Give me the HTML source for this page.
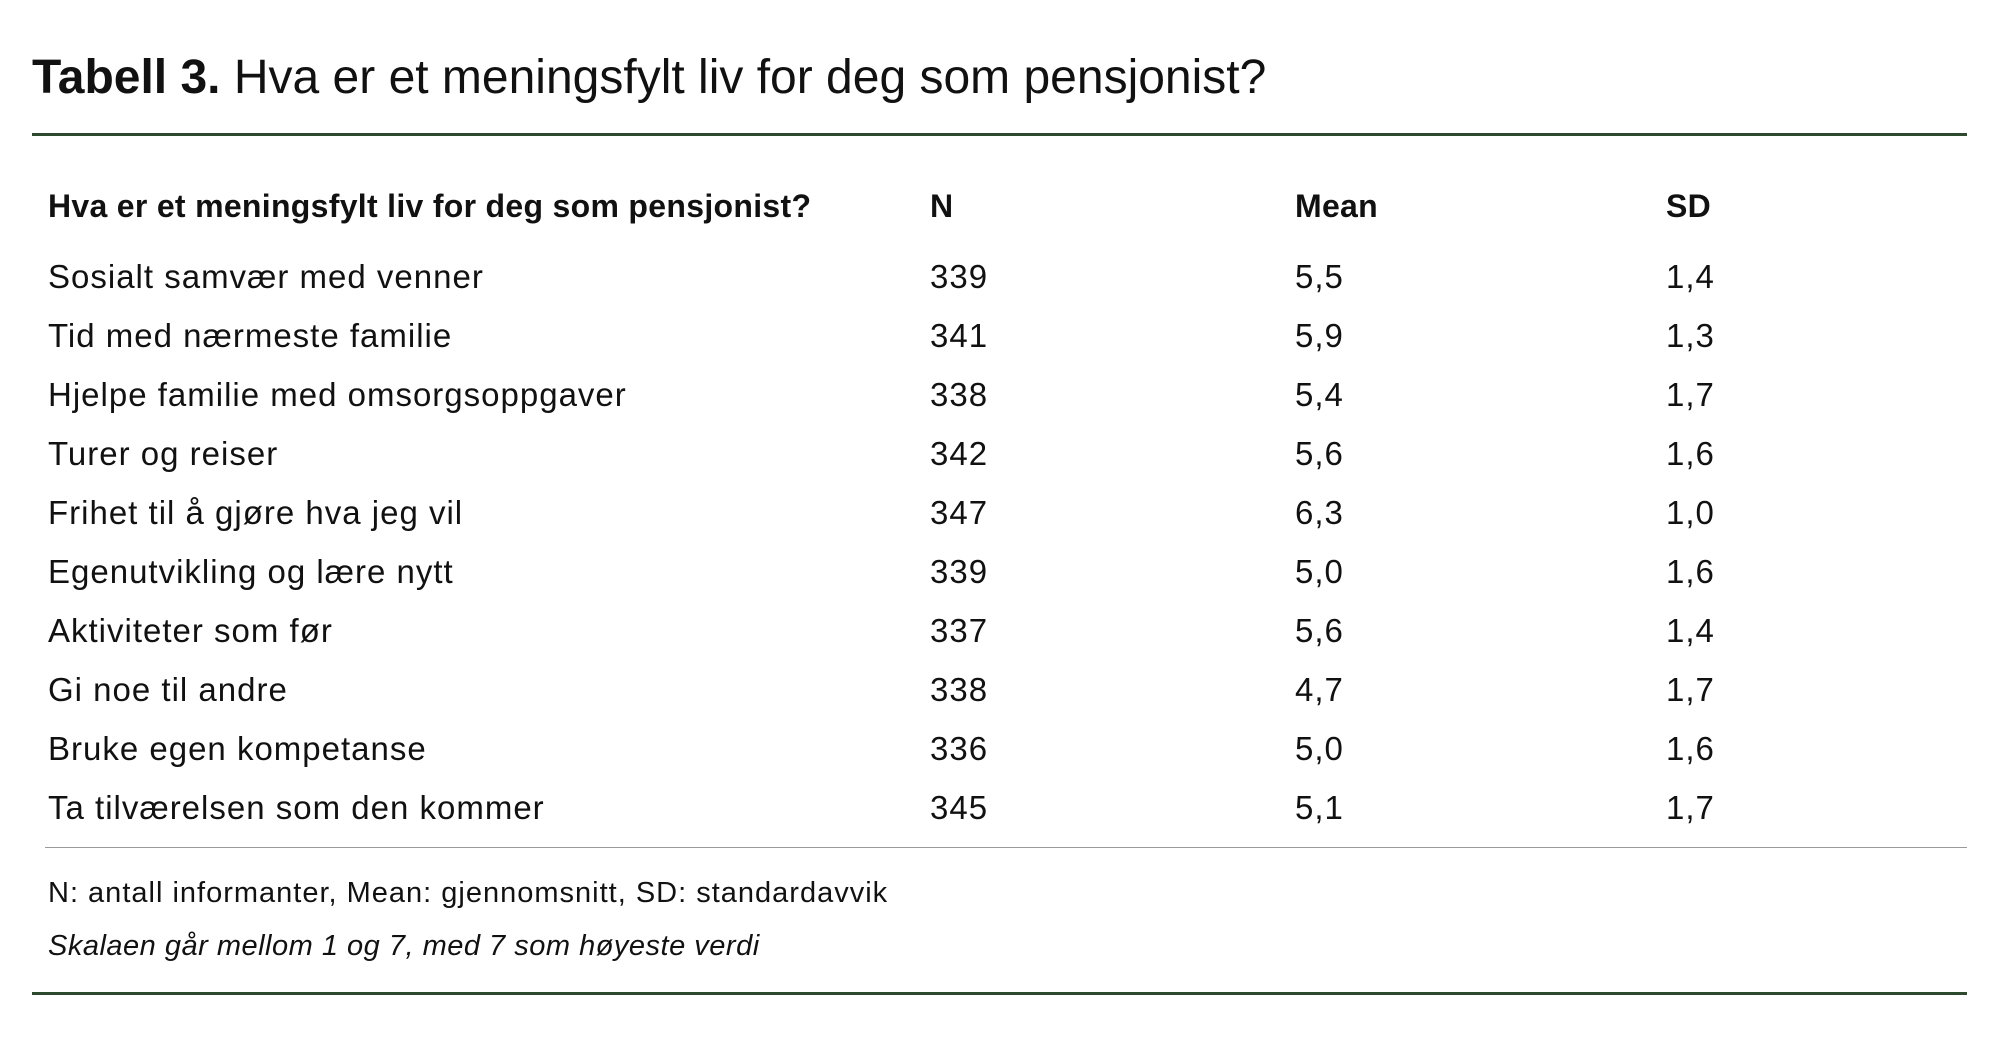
<!DOCTYPE html>
<html><head><meta charset="utf-8">
<style>
body{margin:0;width:2000px;height:1038px;background:#fff;position:relative;font-family:"Liberation Sans",sans-serif;color:#111;overflow:hidden}
.t{position:absolute;white-space:nowrap;line-height:1}
.r{font-size:33px;letter-spacing:1px}
.h{font-size:32px;font-weight:bold;letter-spacing:0.3px}
.rule{position:absolute;left:32px;width:1935px;background:#2e4a2e}
</style></head><body>
<div class="t" style="left:32px;top:54px;font-size:48px"><b>Tabell 3.</b> Hva er et meningsfylt liv for deg som pensjonist?</div>
<div class="rule" style="top:133px;height:3px"></div>

<div class="t h" style="left:48px;top:190px">Hva er et meningsfylt liv for deg som pensjonist?</div>
<div class="t h" style="left:930px;top:190px">N</div>
<div class="t h" style="left:1295px;top:190px">Mean</div>
<div class="t h" style="left:1666px;top:190px">SD</div>

<div class="t r" style="left:48px;top:260px">Sosialt samvær med venner</div><div class="t r" style="left:930px;top:260px">339</div><div class="t r" style="left:1295px;top:260px">5,5</div><div class="t r" style="left:1666px;top:260px">1,4</div>
<div class="t r" style="left:48px;top:319px">Tid med nærmeste familie</div><div class="t r" style="left:930px;top:319px">341</div><div class="t r" style="left:1295px;top:319px">5,9</div><div class="t r" style="left:1666px;top:319px">1,3</div>
<div class="t r" style="left:48px;top:378px">Hjelpe familie med omsorgsoppgaver</div><div class="t r" style="left:930px;top:378px">338</div><div class="t r" style="left:1295px;top:378px">5,4</div><div class="t r" style="left:1666px;top:378px">1,7</div>
<div class="t r" style="left:48px;top:437px">Turer og reiser</div><div class="t r" style="left:930px;top:437px">342</div><div class="t r" style="left:1295px;top:437px">5,6</div><div class="t r" style="left:1666px;top:437px">1,6</div>
<div class="t r" style="left:48px;top:496px">Frihet til å gjøre hva jeg vil</div><div class="t r" style="left:930px;top:496px">347</div><div class="t r" style="left:1295px;top:496px">6,3</div><div class="t r" style="left:1666px;top:496px">1,0</div>
<div class="t r" style="left:48px;top:555px">Egenutvikling og lære nytt</div><div class="t r" style="left:930px;top:555px">339</div><div class="t r" style="left:1295px;top:555px">5,0</div><div class="t r" style="left:1666px;top:555px">1,6</div>
<div class="t r" style="left:48px;top:614px">Aktiviteter som før</div><div class="t r" style="left:930px;top:614px">337</div><div class="t r" style="left:1295px;top:614px">5,6</div><div class="t r" style="left:1666px;top:614px">1,4</div>
<div class="t r" style="left:48px;top:673px">Gi noe til andre</div><div class="t r" style="left:930px;top:673px">338</div><div class="t r" style="left:1295px;top:673px">4,7</div><div class="t r" style="left:1666px;top:673px">1,7</div>
<div class="t r" style="left:48px;top:732px">Bruke egen kompetanse</div><div class="t r" style="left:930px;top:732px">336</div><div class="t r" style="left:1295px;top:732px">5,0</div><div class="t r" style="left:1666px;top:732px">1,6</div>
<div class="t r" style="left:48px;top:791px">Ta tilværelsen som den kommer</div><div class="t r" style="left:930px;top:791px">345</div><div class="t r" style="left:1295px;top:791px">5,1</div><div class="t r" style="left:1666px;top:791px">1,7</div>

<div style="position:absolute;left:45px;top:847px;width:1922px;height:1px;background:#999"></div>
<div class="t" style="left:48px;top:879px;font-size:29px;letter-spacing:1px">N: antall informanter, Mean: gjennomsnitt, SD: standardavvik</div>
<div class="t" style="left:48px;top:932px;font-size:29px;letter-spacing:0.5px;font-style:italic">Skalaen går mellom 1 og 7, med 7 som høyeste verdi</div>
<div class="rule" style="top:992px;height:3px"></div>
</body></html>
